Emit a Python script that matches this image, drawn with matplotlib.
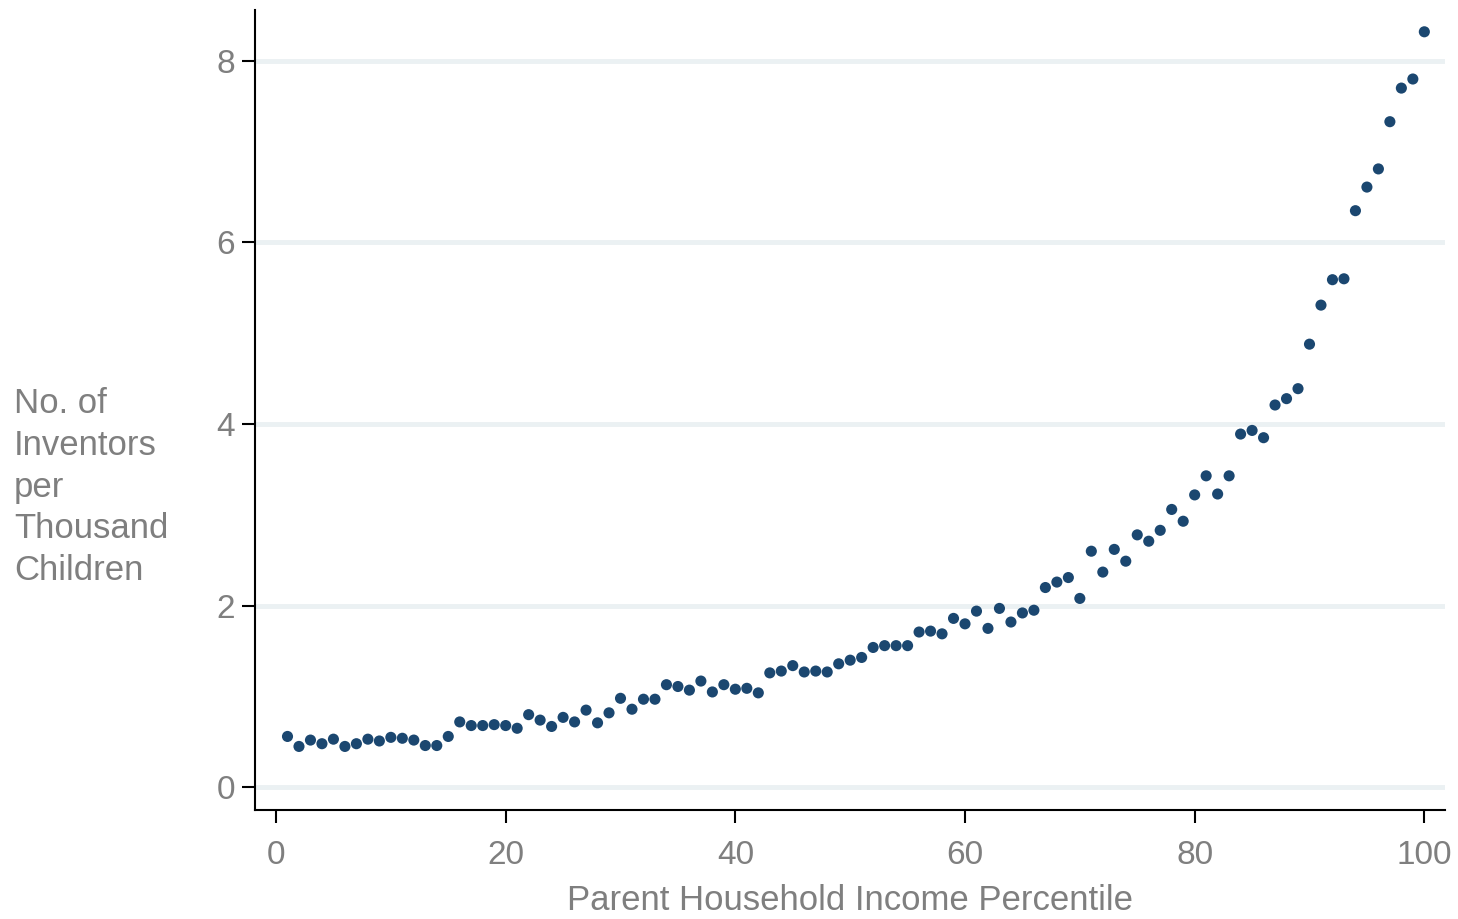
import matplotlib
matplotlib.use("Agg")
import matplotlib.pyplot as plt

plt.rcParams["font.family"] = ["Liberation Sans", "DejaVu Sans"]

percentile = list(range(1, 101))
inventors = [
    0.56, 0.45, 0.52, 0.48, 0.53, 0.45, 0.48, 0.53, 0.51, 0.55,
    0.54, 0.52, 0.46, 0.46, 0.56, 0.72, 0.68, 0.68, 0.69, 0.68,
    0.65, 0.80, 0.74, 0.67, 0.77, 0.72, 0.85, 0.71, 0.82, 0.98,
    0.86, 0.97, 0.97, 1.13, 1.11, 1.07, 1.17, 1.05, 1.13, 1.08,
    1.09, 1.04, 1.26, 1.28, 1.34, 1.27, 1.28, 1.27, 1.36, 1.40,
    1.43, 1.54, 1.56, 1.56, 1.56, 1.71, 1.72, 1.69, 1.86, 1.80,
    1.94, 1.75, 1.97, 1.82, 1.92, 1.95, 2.20, 2.26, 2.31, 2.08,
    2.60, 2.37, 2.62, 2.49, 2.78, 2.71, 2.83, 3.06, 2.93, 3.22,
    3.43, 3.23, 3.43, 3.89, 3.93, 3.85, 4.21, 4.28, 4.39, 4.88,
    5.31, 5.59, 5.60, 6.35, 6.61, 6.81, 7.33, 7.70, 7.80, 8.32,
]
xticks = [0, 20, 40, 60, 80, 100]
yticks = [0, 2, 4, 6, 8]

W, H = 1458, 919
fig = plt.figure(figsize=(W / 100, H / 100), dpi=100)
ax = fig.add_axes([255 / W, 1 - 810 / H, (1445 - 255) / W, (810 - 10) / H])

grey = "#7f7f7f"
for yv in yticks:
    ax.axhline(yv, color="#ebf1f3", lw=3.5, zorder=0)

ax.scatter(percentile, inventors, s=64, color="#1b4770", edgecolors="none", zorder=3)

ax.set_xlim(-1.83, 101.8)
ax.set_ylim(-0.25, 8.56)
ax.set_xticks(xticks)
ax.set_yticks(yticks)
ax.tick_params(axis="both", colors="black", labelcolor=grey, labelsize=24,
               length=9.5, width=1.5, direction="out")
ax.tick_params(axis="x", pad=12)
ax.tick_params(axis="y", pad=5)
for s in ["top", "right"]:
    ax.spines[s].set_visible(False)
for s in ["left", "bottom"]:
    ax.spines[s].set_linewidth(1.5)
    ax.spines[s].set_color("black")

ax.set_xlabel("Parent Household Income Percentile", fontsize=25, color=grey, labelpad=9.5)
fig.text(14 / W, 1 - 487 / H, "No. of\nInventors\nper\nThousand\nChildren",
         fontsize=25, color=grey, ha="left", va="center", linespacing=1.34)

fig.savefig("out.png", dpi=100)
